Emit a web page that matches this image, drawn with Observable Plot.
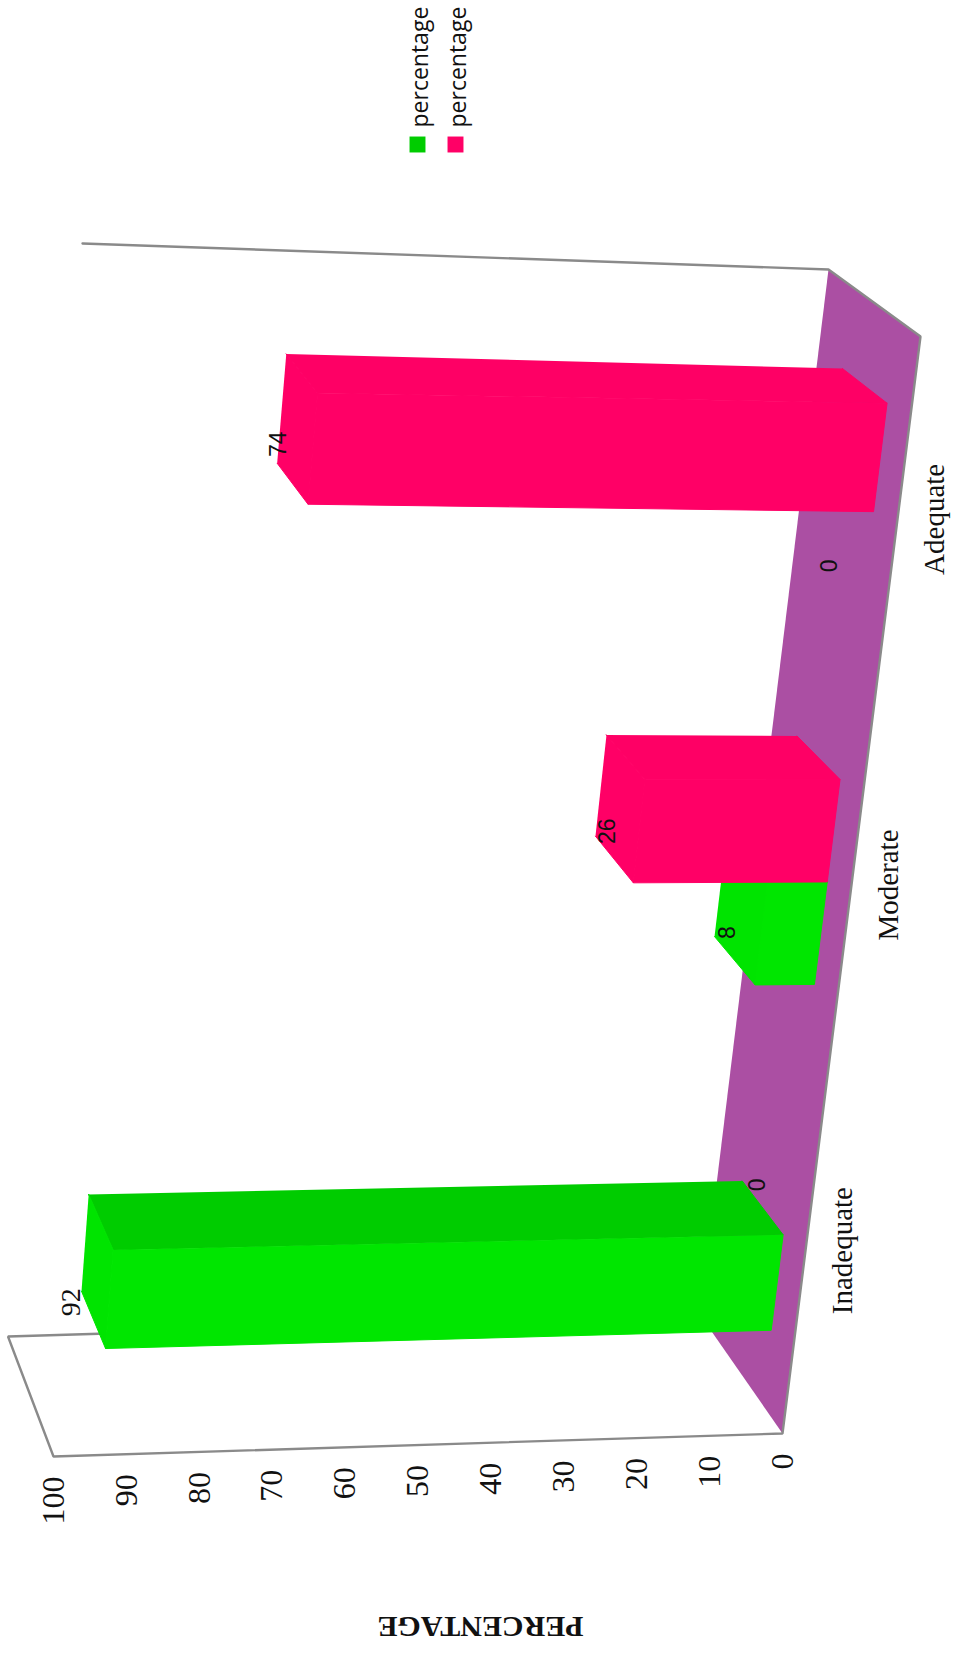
<!DOCTYPE html>
<html>
<head>
<meta charset="utf-8">
<title>Percentage by level</title>
<script src="https://cdn.jsdelivr.net/npm/d3@7"></script>
<script src="https://cdn.jsdelivr.net/npm/@observablehq/plot@0.6"></script>
<style>
  html, body { margin: 0; padding: 0; background: #fff; }
  svg { display: block; }
</style>
</head>
<body>
<div id="chart"></div>
<script>
// Chart values
const categories = ["Inadequate", "Moderate", "Adequate"];
const greenValues = [92, 8, 0];
const pinkValues = [0, 26, 74];
const axisTicks = [0, 10, 20, 30, 40, 50, 60, 70, 80, 90, 100];
const legendLabels = ["percentage", "percentage"];
const axisTitle = "PERCENTAGE";

// Palette: front face, end cap, side face
const greenShades = ["#00e600", "#00e400", "#00cc00"];
const pinkShades = ["#ff0066", "#ff0066", "#fe0065"];
const legendGreen = "#00cc00";
const floorColor = "#ab4fa3";
const edgeColor = "#8a8a8a";

// Box corners in scale units, indexed [value end][depth][category end]
const box = [
  [[[0, 0], [-18.93, 1]], [[11.25, 0.1076], [-6.31, 1.0611]]],
  [[[100, -0.021], [88.48, 1.0128]], [[106.24, 0.0884], [96.02, 1.0848]]]
];

// Where each bar sits along the category axis, and how deep it is
const greenSpans = [[0.068, 0.156], [0.387, 0.4815], [0.73, 0.823]];
const pinkSpans = [[0.156, 0.25], [0.4815, 0.576], [0.823, 0.923]];
const barDepth = [0.25, 0.74];

// Screen nudges for the value labels
const greenNudges = [[-10, 11], [13, -4], [12, -7]];
const pinkNudges = [[15, 4], [12, -5], [1, -19]];

const lerp = (a, b, t) => a + (b - a) * t;

// Trilinear position inside the box: v is a percentage, c runs along the
// categories and d runs from the front edge (0) to the back wall (1).
function project(v, c, d) {
  const t = v / 100;
  return [0, 1].map((k) => {
    const atValue = (end) => lerp(
      lerp(box[end][0][0][k], box[end][0][1][k], c),
      lerp(box[end][1][0][k], box[end][1][1][k], c),
      d
    );
    return lerp(atValue(0), atValue(1), t);
  });
}

const polygon = (id, fill, corners) =>
  corners.map(([v, c, d]) => {
    const [x, y] = project(v, c, d);
    return { id, fill, x, y };
  });

// The three visible faces of one bar
function barFaces(id, value, [c0, c1], [front, cap, side]) {
  if (value === 0) return [];
  const [d0, d1] = barDepth;
  return [
    ...polygon(`${id}-side`, side, [[0, c1, d1], [0, c1, d0], [value, c1, d0], [value, c1, d1]]),
    ...polygon(`${id}-cap`, cap, [[value, c1, d1], [value, c1, d0], [value, c0, d0], [value, c0, d1]]),
    ...polygon(`${id}-front`, front, [[0, c1, d0], [0, c0, d0], [value, c0, d0], [value, c1, d0]])
  ];
}

const faces = [
  ...categories.flatMap((_, i) => barFaces(`g${i}`, greenValues[i], greenSpans[i], greenShades)),
  ...categories.flatMap((_, i) => barFaces(`p${i}`, pinkValues[i], pinkSpans[i], pinkShades))
];

const floor = polygon("floor", floorColor, [[0, 0, 0], [0, 1, 0], [0, 1, 1], [0, 0, 1]]);

const edges = polygon("walls", "", [
  [0, 0, 1], [100, 0, 1], [100, 0, 0], [0, 0, 0], [0, 1, 0], [0, 1, 1], [100, 1, 1]
]);

const tickPoints = axisTicks.map((v) => {
  const [x, y] = project(v, 0, 0);
  return { x, y, label: String(v) };
});

const categoryPoints = categories.map((label, i) => {
  const [x, y] = project(0, (i + 0.5) / 3, 0);
  return { x, y, label };
});

// One text mark per value label, placed at the bar's rear corner
function valueLabel(value, span, [dx, dy], fontFamily, fontSize) {
  const [x, y] = project(value, span[0], barDepth[1]);
  return Plot.text([{ x, y, label: String(value) }], {
    x: "x", y: "y", text: "label", rotate: -90, dx, dy,
    fontFamily, fontSize, fill: "#111"
  });
}

const sans = "Liberation Sans";
const serif = "Liberation Serif";

const chart = Plot.plot({
  width: 955,
  height: 1654,
  marginTop: 0, marginRight: 0, marginBottom: 0, marginLeft: 0,
  style: { background: "#fff" },
  x: { domain: [0, 100], range: [782, 53], axis: null },
  y: { domain: [0, 1], range: [1433, 336], axis: null },
  marks: [
    Plot.line(floor, { x: "x", y: "y", fill: floorColor, stroke: "none" }),
    Plot.line(edges, { x: "x", y: "y", stroke: edgeColor, strokeWidth: 2.4, strokeLinejoin: "miter" }),
    Plot.line(faces, { x: "x", y: "y", z: "id", fill: "fill", stroke: "fill", strokeWidth: 1 }),

    Plot.text(tickPoints, {
      x: "x", y: "y", text: "label", rotate: -90, textAnchor: "end", dy: 20,
      fontFamily: serif, fontSize: 32, fill: "#111"
    }),
    Plot.text(categoryPoints, {
      x: "x", y: "y", text: "label", rotate: -90, dx: 37,
      fontFamily: serif, fontSize: 29, fill: "#111"
    }),

    ...categories.map((_, i) =>
      valueLabel(greenValues[i], greenSpans[i], greenNudges[i], i === 0 ? serif : sans, i === 0 ? 28 : 23)),
    ...categories.map((_, i) =>
      valueLabel(pinkValues[i], pinkSpans[i], pinkNudges[i], sans, 23)),

    Plot.text([axisTitle], {
      frameAnchor: "top-left", dx: 480, dy: 1626, rotate: 180,
      textAnchor: "middle", lineAnchor: "middle",
      fontFamily: serif, fontWeight: "bold", fontSize: 30, fill: "#111"
    }),

    // Legend
    Plot.dot([0], { frameAnchor: "top-left", dx: 417, dy: 144, symbol: "square", r: 9, fill: legendGreen }),
    Plot.dot([0], { frameAnchor: "top-left", dx: 455, dy: 144, symbol: "square", r: 9, fill: pinkShades[0] }),
    ...legendLabels.map((label, i) =>
      Plot.text([label], {
        frameAnchor: "top-left", dx: 420 + 38 * i, dy: 127, rotate: -90,
        textAnchor: "start", lineAnchor: "middle",
        fontFamily: "Open Sans", fontSize: 23, fill: "#111"
      }))
  ]
});

document.getElementById("chart").append(chart);
</script>
</body>
</html>
